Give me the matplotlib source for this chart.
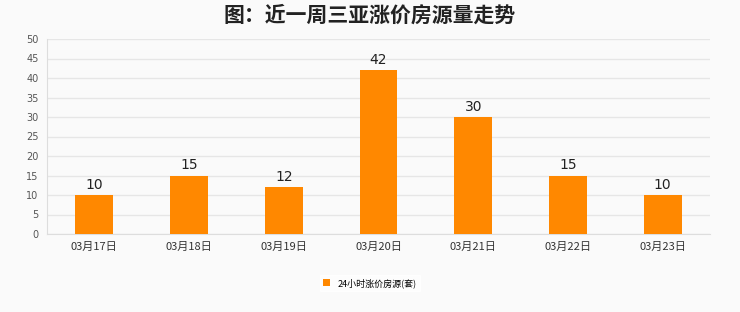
import numpy as np
import matplotlib.pyplot as plt

plt.rcParams['font.family'] = ['Noto Sans CJK SC', 'DejaVu Sans']

dates = ['03月17日', '03月18日', '03月19日', '03月20日', '03月21日', '03月22日', '03月23日']
counts = [10, 15, 12, 42, 30, 15, 10]
series_name = '24小时涨价房源(套)'

bg = '#fafafa'
fig = plt.figure(figsize=(7.4, 3.12), dpi=100, facecolor=bg)
ax = fig.add_axes([47/740, 1 - 234/312, (710-47)/740, (234-39)/312])
ax.set_facecolor(bg)

x = np.arange(len(dates))
bars = ax.bar(x, counts, width=0.4, color='#ff8800', label=series_name, zorder=3)
for xi, v in zip(x, counts):
    ax.text(xi, v + 0.8, str(v), ha='center', va='bottom', fontsize=10,
            family='DejaVu Sans', color='#222222', zorder=4)

ax.set_xlim(-0.5, len(dates) - 0.5)
ax.set_ylim(0, 50)
ax.set_yticks(range(0, 51, 5))
ax.set_xticks(x)
ax.set_xticklabels(dates, fontsize=8, color='#333333')
ax.tick_params(axis='y', labelsize=7, colors='#555555', length=0, pad=6)
for lbl in ax.get_yticklabels():
    lbl.set_family('DejaVu Sans')
ax.tick_params(axis='x', length=0, pad=6)
ax.grid(axis='y', color='#e6e6e6', linewidth=1, zorder=0)
for s in ['top', 'right']:
    ax.spines[s].set_visible(False)
ax.spines['left'].set_color('#dddddd')
ax.spines['bottom'].set_color('#dddddd')

fig.suptitle('图：近一周三亚涨价房源量走势', x=0.5, y=0.985, fontsize=15, fontweight='bold', color='#222222')

leg = fig.legend(loc='center', bbox_to_anchor=(0.5, 1 - 283/312), fontsize=6.5, frameon=True,
                 handlelength=0.8, handleheight=0.8, fancybox=False, edgecolor='white')
leg.get_frame().set_facecolor('white')

fig.savefig('out.png', dpi=100, facecolor=bg)
